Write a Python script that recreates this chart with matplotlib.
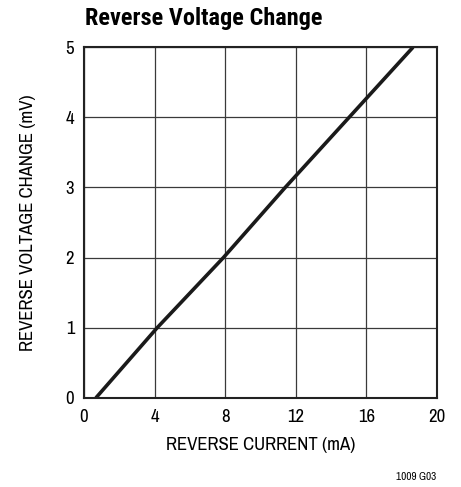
import matplotlib.pyplot as plt

plt.rcParams['font.family'] = ['Archivo Narrow', 'Liberation Sans', 'DejaVu Sans']
title_font = ['Roboto Condensed', 'Archivo Narrow', 'DejaVu Sans']

# reverse current (mA) vs reverse voltage change (mV)
current = [0.68, 4.15, 7.9, 11.4, 18.64]
voltage = [0, 1, 2, 3, 5]

xticks = [0, 4, 8, 12, 16, 20]
yticks = [0, 1, 2, 3, 4, 5]

fig = plt.figure(figsize=(4.61, 4.87), dpi=100)
ax = fig.add_axes([0.182, 0.183, 0.766, 0.72])

ax.plot(current, voltage, color='#1a1a1a', lw=2.6, solid_capstyle='butt')

ax.set_xlim(0, 20)
ax.set_ylim(0, 5)
ax.set_xticks(xticks)
ax.set_yticks(yticks)
ax.grid(True, color='#3a3a3a', lw=0.9)
ax.set_axisbelow(True)
ax.tick_params(length=0, labelsize=13.5)
ax.tick_params(axis='x', pad=8)
ax.tick_params(axis='y', pad=7)
for s in ax.spines.values():
    s.set_linewidth(1.5)
    s.set_color('#222222')

ax.set_xlabel('REVERSE CURRENT (mA)', fontsize=13.5, labelpad=9)
ax.set_ylabel('REVERSE VOLTAGE CHANGE (mV)', fontsize=13.5, labelpad=21)

fig.text(0.184, 0.948, 'Reverse Voltage Change', fontsize=17.5, fontweight='bold',
         family=title_font, ha='left', va='baseline')
fig.text(0.946, 0.0205, '1009 G03', fontsize=8, ha='right', va='center')

plt.savefig('out.png', dpi=100)
